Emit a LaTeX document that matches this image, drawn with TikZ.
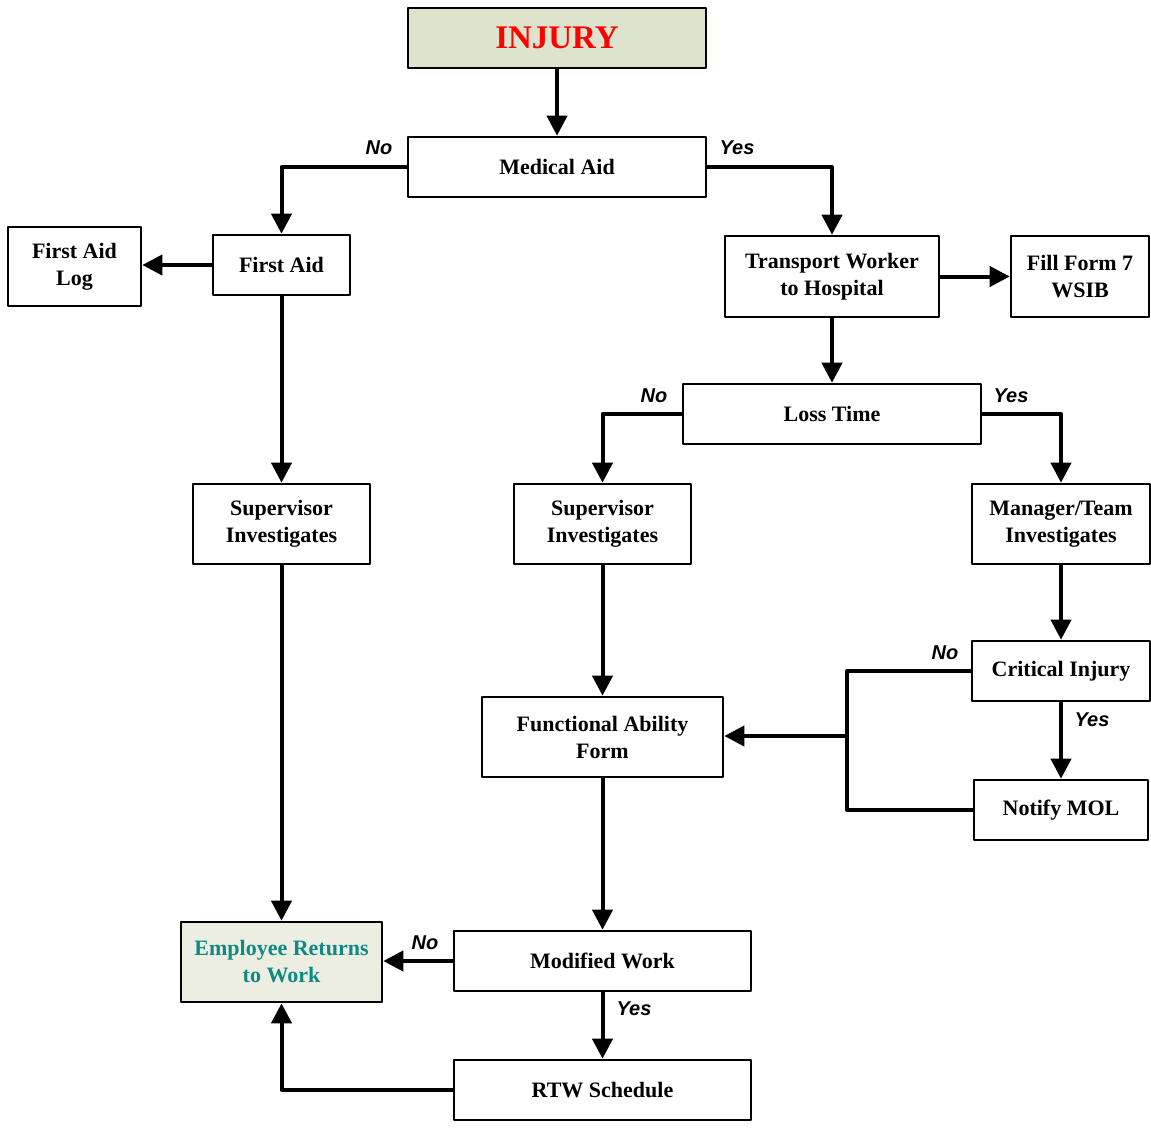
\documentclass[tikz,border=0pt]{standalone}
\usepackage{fontspec}
\setmainfont{Liberation Serif}
\setsansfont{Liberation Sans}
\usepackage{xcolor}
\usepackage{tikz}
\usetikzlibrary{arrows.meta,calc}

\definecolor{injuryfill}{HTML}{DDE3CD}
\definecolor{returnfill}{HTML}{ECEEE2}
\definecolor{returntext}{HTML}{0E8A86}

\tikzset{
  box/.style={draw=black,line width=1.3pt,fill=white,inner sep=0pt,align=center,
    font=\fontsize{11}{13.5}\selectfont\bfseries},
  link/.style={line width=2pt,-{Triangle[length=10pt,width=10pt]}},
  lbl/.style={font=\fontsize{10}{12}\selectfont\sffamily\bfseries\itshape,inner sep=0pt}
}

\begin{document}
\begin{tikzpicture}[x=0.5pt,y=-0.5pt,line join=round]
  \useasboundingbox (0,0) rectangle (1151,1131);
  % boxes
  \node[box,fill=injuryfill,minimum width=149pt,minimum height=30pt,
    font=\fontsize{16.5}{18}\selectfont\bfseries,text=red] (injury) at (557,38) {INJURY};
  \node[box,minimum width=149pt,minimum height=30pt] (medaid) at (557,167) {Medical Aid};
  \node[box,minimum width=68.5pt,minimum height=30pt] (firstaid) at (281.5,265) {First Aid};
  \node[box,minimum width=66.5pt,minimum height=39.5pt] (falog) at (74.5,266.5) {First Aid\\Log};
  \node[box,minimum width=107pt,minimum height=40.5pt] (transport) at (832,276.5) {Transport Worker\\to Hospital};
  \node[box,minimum width=69pt,minimum height=40.5pt] (form7) at (1080,276.5) {Fill Form 7\\WSIB};
  \node[box,minimum width=149pt,minimum height=30pt] (losstime) at (832,414) {Loss Time};
  \node[box,minimum width=88.5pt,minimum height=40pt] (supL) at (281.5,524) {Supervisor\\Investigates};
  \node[box,minimum width=88.5pt,minimum height=40pt] (supM) at (602.5,524) {Supervisor\\Investigates};
  \node[box,minimum width=89pt,minimum height=40pt] (manager) at (1061,524) {Manager/Team\\Investigates};
  \node[box,minimum width=89pt,minimum height=30pt] (critical) at (1061,671) {Critical Injury};
  \node[box,minimum width=120.5pt,minimum height=40pt] (faf) at (602.5,737) {Functional Ability\\Form};
  \node[box,minimum width=87pt,minimum height=30pt] (notify) at (1061,810) {Notify MOL};
  \node[box,fill=returnfill,text=returntext,minimum width=100.5pt,minimum height=40pt] (returns) at (281.5,962) {Employee Returns\\to Work};
  \node[box,minimum width=148.5pt,minimum height=30pt] (modified) at (602.5,961) {Modified Work};
  \node[box,minimum width=148.5pt,minimum height=30pt] (rtw) at (602.5,1090) {RTW Schedule};
  \coordinate (join) at (847,736);
  % connectors
  \draw[link] (injury) -- (medaid);
  \draw[link] (medaid.west) -| (firstaid.north);
  \draw[link] (medaid.east) -| (transport.north);
  \draw[link] (firstaid.west) -- (firstaid.west -| falog.east);
  \draw[link] (transport.east) -- (form7.west);
  \draw[link] (transport) -- (losstime);
  \draw[link] (losstime.west) -| (supM.north);
  \draw[link] (losstime.east) -| (manager.north);
  \draw[link] (firstaid) -- (supL);
  \draw[link] (supL) -- (returns);
  \draw[link] (supM) -- (faf);
  \draw[link] (manager) -- (critical);
  \draw[link] (critical) -- (notify);
  \draw[line width=2pt] (critical.west) -| (join) |- (notify.west);
  \draw[link] (join) -- (join -| faf.east);
  \draw[link] (faf) -- (modified);
  \draw[link] (modified.west) -- (returns.east |- modified.west);
  \draw[link] (modified) -- (rtw);
  \draw[link] (rtw.west) -| (returns.south);
  % labels
  \node[lbl] (no1) at (379,148) {No};
  \node[lbl] (yes1) at (737,148) {Yes};
  \node[lbl] (no2) at (654,396) {No};
  \node[lbl] (yes2) at (1011,396) {Yes};
  \node[lbl] (no3) at (945,653) {No};
  \node[lbl] (yes3) at (1092,720) {Yes};
  \node[lbl] (no4) at (425,943) {No};
  \node[lbl] (yes4) at (634,1009) {Yes};
\end{tikzpicture}
\end{document}
